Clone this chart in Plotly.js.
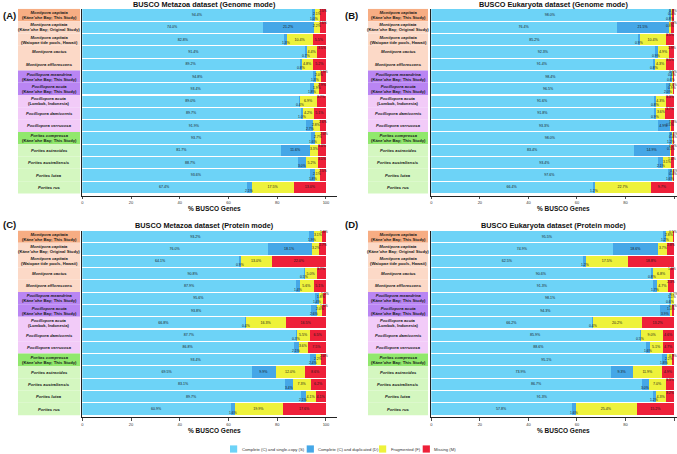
<!DOCTYPE html>
<html><head><meta charset="utf-8">
<script src="https://cdn.plot.ly/plotly-3.0.1.min.js"></script>
<style>html,body{margin:0;padding:0;background:#fff}#chart{width:677px;height:454px}</style>
</head><body><div id="chart"></div>
<script>
// ---------- data ----------
const species = ['Montipora capitata','Montipora capitata','Montipora capitata','Montipora cactus','Montipora efflorescens',
  'Pocillopora meandrina','Pocillopora acuta','Pocillopora acuta','Pocillopora damicornis','Pocillopora verrucosa',
  'Porites compressa','Porites astreoides','Porites australiensis','Porites lutea','Porites rus'];
const sites = ['(Kāne\u2019ohe Bay; This Study)','(Kāne\u2019ohe Bay; Original Study)','(Waiopae tide pools, Hawaii)','','',
  '(Kāne\u2019ohe Bay; This Study)','(Kāne\u2019ohe Bay; This Study)','(Lombok, Indonesia)','','',
  '(Kāne\u2019ohe Bay; This Study)','','','',''];
const categories = ['Complete (C) and single-copy (S)','Complete (C) and duplicated (D)','Fragmented (F)','Missing (M)'];
const panelTitles = ['BUSCO Metazoa dataset (Genome mode)','BUSCO Eukaryota dataset (Genome mode)',
  'BUSCO Metazoa dataset (Protein mode)','BUSCO Eukaryota dataset (Protein mode)'];
const panelLetters = ['(A)','(B)','(C)','(D)'];
const xTickVals = [0,20,40,60,80,100];
const axisTitle = '% BUSCO Genes';

// (A) Metazoa, genome mode
const metaGenomeS = [94.4,74.0,82.8,91.4,89.2,94.8,93.4,89.0,89.7,91.9,93.7,81.7,88.7,93.6,67.4];
const metaGenomeD = [1.0,21.2,1.3,0.7,0.8,1.3,1.8,0.4,1.0,2.7,1.6,11.6,3.0,1.8,2.1];
const metaGenomeF = [2.1,2.2,10.4,4.4,4.8,2.0,1.9,6.9,4.2,2.8,2.7,3.3,5.2,2.1,17.5];
const metaGenomeM = [2.5,2.6,5.5,3.5,5.2,1.9,2.9,3.7,5.1,2.6,2.0,3.4,3.1,2.5,13.0];
// (B) Eukaryota, genome mode
const eukGenomeS = [98.0,76.4,85.2,92.3,91.4,98.4,96.5,91.6,91.8,93.3,98.0,83.4,93.4,97.6,66.4];
const eukGenomeD = [0.8,21.5,0.9,0.9,0.8,0.6,2.0,0.8,0.9,4.9,1.2,14.9,2.1,1.6,1.2];
const eukGenomeF = [0.4,0.8,10.4,4.9,4.3,0.4,0.9,4.3,3.6,0.5,0.4,0.5,3.1,0.4,22.7];
const eukGenomeM = [0.8,1.3,3.5,1.9,3.5,0.6,0.6,3.3,3.7,1.3,0.4,1.2,1.4,0.4,9.7];
// (C) Metazoa, protein mode
const metaProteinS = [93.2,76.0,64.1,90.8,87.9,95.6,93.8,66.8,87.7,86.8,93.4,69.5,83.1,89.7,60.9];
const metaProteinD = [1.9,18.1,0.9,0.5,1.4,1.4,2.6,0.4,0.3,2.1,2.4,9.9,3.4,2.1,1.6];
const metaProteinF = [3.1,3.2,13.0,5.0,5.6,1.8,2.0,16.3,5.5,3.6,2.2,12.0,7.3,4.1,19.9];
const metaProteinM = [1.8,2.7,22.0,3.7,5.1,1.2,1.6,16.5,6.5,7.5,2.0,8.6,6.2,4.1,17.6];
// (D) Eukaryota, protein mode
const eukProteinS = [95.5,74.9,62.5,90.6,91.3,98.1,94.3,66.2,85.9,88.6,95.1,73.9,86.7,91.3,57.8];
const eukProteinD = [1.2,18.6,1.2,0.8,1.7,0.6,3.9,0.4,0.5,1.6,1.8,9.3,3.0,1.2,1.6];
const eukProteinF = [2.8,3.7,17.5,6.8,4.7,1.1,1.0,20.2,9.0,5.1,2.2,11.9,7.0,4.3,25.4];
const eukProteinM = [0.5,2.8,18.8,1.8,2.3,0.2,0.8,13.2,4.6,4.7,0.9,4.9,3.3,3.2,15.2];

// ---------- styles ----------
const FONT = 'Liberation Sans, Arial, Helvetica, sans-serif';
const COLORS = ['#6DD3F7','#45A7E7','#EEF23B','#EE2039'];
const BOX_COLORS = ['#F7AD83','#FCD9C7','#FCD9C7','#FCD9C7','#FCD9C7','#B985F3','#B985F3',
  '#F2CBF8','#F2CBF8','#F2CBF8','#91E86D','#D4F7C0','#D4F7C0','#D4F7C0','#D4F7C0'];
const W = 677, H = 454;
const px = v => v / W, py = v => 1 - v / H;

const panelData = [
  [metaGenomeS, metaGenomeD, metaGenomeF, metaGenomeM],
  [eukGenomeS, eukGenomeD, eukGenomeF, eukGenomeM],
  [metaProteinS, metaProteinD, metaProteinF, metaProteinM],
  [eukProteinS, eukProteinD, eukProteinF, eukProteinM]
];
// geometry (pixels)
const geo = [
  {x0: 82.3, x1: 336.7, xmax: 104.4, top: 8.85, bottom: 195.7, box: [18, 80], lab: 49, title: [204.5, 4.6], letter: [9, 15.8], at: [214, 208.3]},
  {x0: 431.3, x1: 677, xmax: 101.2, top: 8.85, bottom: 195.7, box: [368, 428], lab: 398, title: [553.5, 4.6], letter: [352, 15.8], at: [563, 208.3]},
  {x0: 82.3, x1: 336.7, xmax: 104.4, top: 230.5, bottom: 417.4, box: [18, 80], lab: 49, title: [204.5, 225.7], letter: [9, 225], at: [214, 430.6]},
  {x0: 431.3, x1: 677, xmax: 101.2, top: 230.5, bottom: 417.4, box: [368, 428], lab: 398, title: [553.5, 225.7], letter: [352, 225], at: [563, 430.6]}
];
// legend swatch left edges (px), swatch size, centre line
const legendX = [230, 306.7, 379, 422.7];
const legendY = 449, legendSw = 7.2;

const rowIdx = species.map((_, i) => i);
const TH = 4.0;
const smallShift = [-3.6, -3.6, 1.2, 4.2];

const traces = [], annotations = [], shapes = [];
const layout = {
  width: W, height: H, margin: {l: 0, r: 0, t: 0, b: 0},
  paper_bgcolor: '#fff', plot_bgcolor: '#fff',
  barmode: 'stack', bargap: 0.09, showlegend: false, hovermode: false,
  font: {family: FONT, color: '#222'}
};

panelData.forEach((vals, p) => {
  const g = geo[p];
  const xa = p === 0 ? 'x' : 'x' + (p + 1);
  const ya = p === 0 ? 'y' : 'y' + (p + 1);
  const xKey = p === 0 ? 'xaxis' : 'xaxis' + (p + 1);
  const yKey = p === 0 ? 'yaxis' : 'yaxis' + (p + 1);
  layout[xKey] = {domain: [px(g.x0), px(g.x1)], range: [0, g.xmax], anchor: ya,
    tickvals: xTickVals, ticks: 'outside', ticklen: 2.5, tickwidth: 0.8, tickcolor: '#222',
    tickfont: {size: 4, family: FONT, color: '#333'}, showline: true, linecolor: '#222', linewidth: 1,
    showgrid: false, zeroline: false, fixedrange: true};
  layout[yKey] = {domain: [py(g.bottom), py(g.top)], range: [14.68, -0.5], anchor: xa,
    showline: true, linecolor: '#222', linewidth: 1, showticklabels: false, ticks: '',
    showgrid: false, zeroline: false, fixedrange: true};

  const cum = rowIdx.map(() => 0);
  vals.forEach((arr, c) => {
    traces.push({
      type: 'bar', orientation: 'h', x: arr, y: rowIdx, xaxis: xa, yaxis: ya,
      name: categories[c], legendgroup: categories[c], showlegend: false,
      marker: {color: COLORS[c], line: {width: 0}},
      text: arr.map(v => v >= TH ? v.toFixed(1) + '%' : ''),
      textposition: 'inside', insidetextanchor: 'middle', textangle: 0, constraintext: 'none',
      textfont: {size: 3.6, family: FONT, color: '#1a1a1a'}
    });
    arr.forEach((v, i) => {
      if (v > 0 && v < TH) {
        annotations.push({xref: xa, yref: ya, x: cum[i] + v / 2, y: i, text: v.toFixed(1) + '%',
          showarrow: false, yshift: smallShift[c], font: {size: 3.4, family: FONT, color: '#1a1a1a'}});
      }
      cum[i] += v;
    });
  });

  // label boxes and labels
  rowIdx.forEach(i => {
    shapes.push({type: 'rect', xref: 'paper', yref: ya, x0: px(g.box[0]), x1: px(g.box[1]),
      y0: i - 0.5, y1: i + 0.5, fillcolor: BOX_COLORS[i], line: {width: 0}, layer: 'below'});
    const t = '<b><i>' + species[i] + '</i></b>' + (sites[i] ? '<br><b>' + sites[i] + '</b>' : '');
    annotations.push({xref: 'paper', yref: ya, x: px(g.lab), y: i, text: t, showarrow: false,
      align: 'center', xanchor: 'center', yanchor: 'middle', font: {size: 4.2, family: FONT, color: '#1a1a1a'}});
  });

  annotations.push({xref: 'paper', yref: 'paper', x: px(g.title[0]), y: py(g.title[1]), text: '<b>' + panelTitles[p] + '</b>',
    showarrow: false, xanchor: 'center', yanchor: 'middle', font: {size: 7.3, family: FONT, color: '#111'}});
  annotations.push({xref: 'paper', yref: 'paper', x: px(g.letter[0]), y: py(g.letter[1]), text: '<b>' + panelLetters[p] + '</b>',
    showarrow: false, xanchor: 'center', yanchor: 'middle', font: {size: 9.5, family: FONT, color: '#111'}});
  annotations.push({xref: 'paper', yref: 'paper', x: px(g.at[0]), y: py(g.at[1]), text: '<b>' + axisTitle + '</b>',
    showarrow: false, xanchor: 'center', yanchor: 'middle', font: {size: 6.5, family: FONT, color: '#111'}});
});

// legend (small square swatches as in the reference)
categories.forEach((name, c) => {
  shapes.push({type: 'rect', xref: 'paper', yref: 'paper',
    x0: px(legendX[c]), x1: px(legendX[c] + legendSw),
    y0: py(legendY + legendSw / 2), y1: py(legendY - legendSw / 2),
    fillcolor: COLORS[c], line: {width: 0}});
  annotations.push({xref: 'paper', yref: 'paper', x: px(legendX[c] + legendSw + 2.5), y: py(legendY),
    text: name, showarrow: false, xanchor: 'left', yanchor: 'middle',
    font: {size: 4.2, family: FONT, color: '#333'}});
});

layout.annotations = annotations;
layout.shapes = shapes;
Plotly.newPlot('chart', traces, layout, {staticPlot: true, displayModeBar: false});
</script>
</body></html>
